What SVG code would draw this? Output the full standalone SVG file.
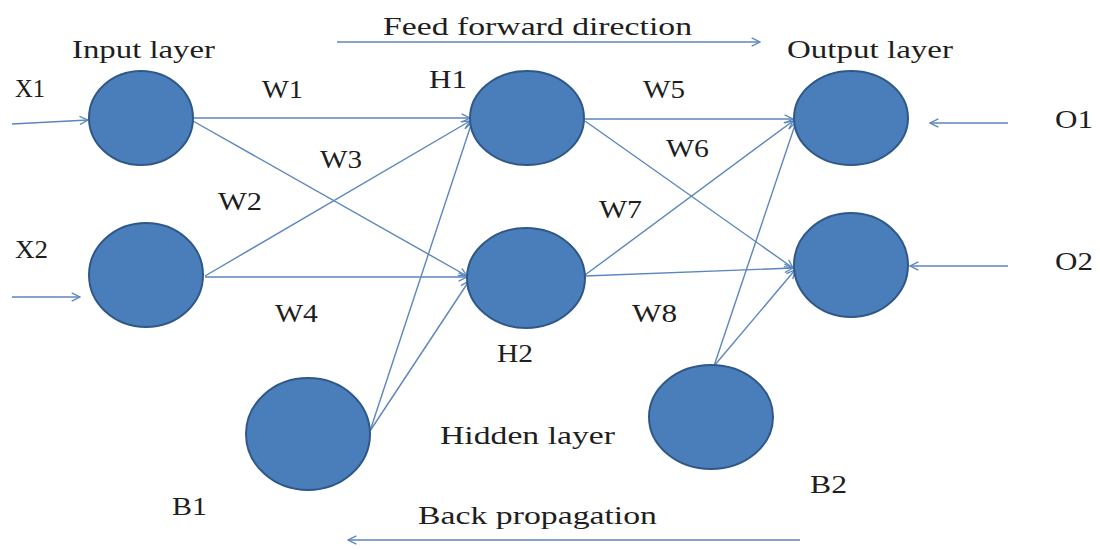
<svg xmlns="http://www.w3.org/2000/svg" width="1100" height="550" viewBox="0 0 1100 550">
<style>
.n{fill:#4a7ebb;stroke:#2f5888;stroke-width:2}
.c{stroke:#5b86bd;stroke-width:1.4;fill:none;marker-end:url(#a)}
.t{font-family:"Liberation Serif","Times New Roman",serif;font-size:26px;fill:#1e1e1e}
</style>
<defs>
<marker id="a" viewBox="0 0 12 12" refX="11" refY="6" markerWidth="10" markerHeight="10" markerUnits="userSpaceOnUse" orient="auto">
<path d="M1,1 L11,6 L1,11" fill="none" stroke="#5b86bd" stroke-width="1.6"/>
</marker>
</defs>
<rect width="1100" height="550" fill="#ffffff"/>
<g id="connectors">
<line class="c" x1="12" y1="124" x2="88" y2="120"/>
<line class="c" x1="12" y1="297" x2="80" y2="297"/>
<line class="c" x1="193" y1="118" x2="470" y2="118"/>
<line class="c" x1="193" y1="121" x2="467" y2="276"/>
<line class="c" x1="205" y1="276" x2="470" y2="121"/>
<line class="c" x1="205" y1="277" x2="467" y2="277"/>
<line class="c" x1="370" y1="431" x2="472" y2="122"/>
<line class="c" x1="370" y1="431" x2="469" y2="281"/>
<line class="c" x1="585" y1="119" x2="793" y2="119"/>
<line class="c" x1="585" y1="121" x2="793" y2="268"/>
<line class="c" x1="585" y1="275" x2="793" y2="121"/>
<line class="c" x1="585" y1="276" x2="793" y2="268"/>
<line class="c" x1="714" y1="366" x2="796" y2="122"/>
<line class="c" x1="714" y1="366" x2="795" y2="270"/>
<line class="c" x1="1008" y1="123" x2="930" y2="123"/>
<line class="c" x1="1008" y1="266" x2="910" y2="266"/>
<line class="c" x1="337" y1="42" x2="760" y2="42"/>
<line class="c" x1="800" y1="540" x2="348" y2="540"/>
</g>
<g id="X1node"><ellipse class="n" cx="141" cy="118" rx="52" ry="47"/></g>
<g id="X2node"><ellipse class="n" cx="146" cy="275" rx="57" ry="52"/></g>
<g id="B1node"><ellipse class="n" cx="308" cy="434" rx="62" ry="56"/></g>
<g id="H1node"><ellipse class="n" cx="527" cy="118" rx="57" ry="47"/></g>
<g id="H2node"><ellipse class="n" cx="526" cy="278" rx="59" ry="50"/></g>
<g id="O1node"><ellipse class="n" cx="851" cy="118" rx="57" ry="47"/></g>
<g id="O2node"><ellipse class="n" cx="851" cy="265" rx="57" ry="52"/></g>
<g id="B2node"><ellipse class="n" cx="711" cy="417" rx="62" ry="52"/></g>
<g id="labels">
<text class="t" x="383" y="35" textLength="309" lengthAdjust="spacingAndGlyphs">Feed forward direction</text>
<text class="t" x="72" y="58" textLength="143" lengthAdjust="spacingAndGlyphs">Input layer</text>
<text class="t" x="787" y="58" textLength="166" lengthAdjust="spacingAndGlyphs">Output layer</text>
<text class="t" x="15" y="97" textLength="30" lengthAdjust="spacingAndGlyphs">X1</text>
<text class="t" x="15" y="258" textLength="33" lengthAdjust="spacingAndGlyphs">X2</text>
<text class="t" x="262" y="98" textLength="41" lengthAdjust="spacingAndGlyphs">W1</text>
<text class="t" x="218" y="210" textLength="44" lengthAdjust="spacingAndGlyphs">W2</text>
<text class="t" x="320" y="168" textLength="42" lengthAdjust="spacingAndGlyphs">W3</text>
<text class="t" x="275" y="322" textLength="43" lengthAdjust="spacingAndGlyphs">W4</text>
<text class="t" x="643" y="98" textLength="42" lengthAdjust="spacingAndGlyphs">W5</text>
<text class="t" x="666" y="157" textLength="43" lengthAdjust="spacingAndGlyphs">W6</text>
<text class="t" x="599" y="218" textLength="43" lengthAdjust="spacingAndGlyphs">W7</text>
<text class="t" x="632" y="322" textLength="45" lengthAdjust="spacingAndGlyphs">W8</text>
<text class="t" x="429" y="88" textLength="38" lengthAdjust="spacingAndGlyphs">H1</text>
<text class="t" x="497" y="362" textLength="36" lengthAdjust="spacingAndGlyphs">H2</text>
<text class="t" x="440" y="444" textLength="175" lengthAdjust="spacingAndGlyphs">Hidden layer</text>
<text class="t" x="172" y="515" textLength="35" lengthAdjust="spacingAndGlyphs">B1</text>
<text class="t" x="810" y="493" textLength="37" lengthAdjust="spacingAndGlyphs">B2</text>
<text class="t" x="418" y="524" textLength="239" lengthAdjust="spacingAndGlyphs">Back propagation</text>
<text class="t" x="1055" y="128" textLength="38" lengthAdjust="spacingAndGlyphs">O1</text>
<text class="t" x="1055" y="270" textLength="38" lengthAdjust="spacingAndGlyphs">O2</text>
</g>
</svg>
